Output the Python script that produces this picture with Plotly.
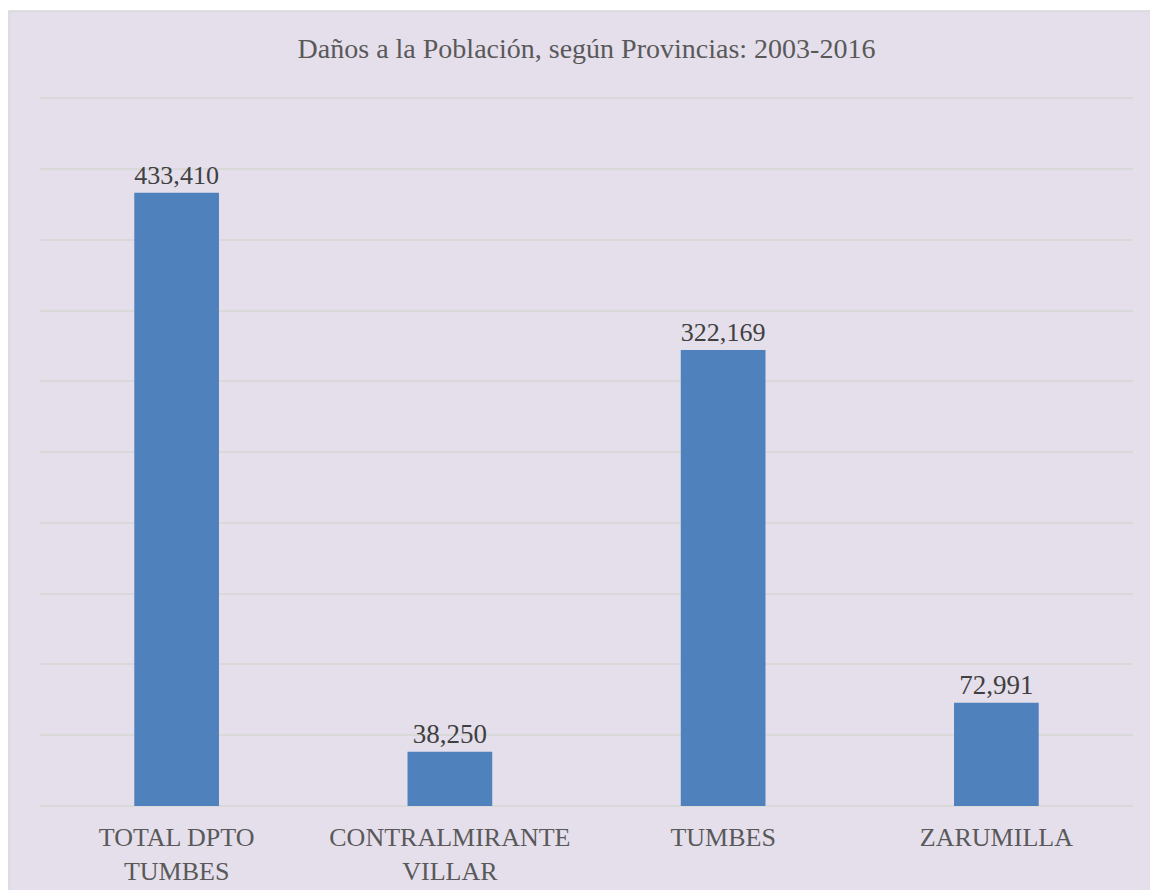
import plotly.graph_objects as go

categories = ["TOTAL DPTO<br>TUMBES", "CONTRALMIRANTE<br>VILLAR", "TUMBES", "ZARUMILLA"]
values = [433410, 38250, 322169, 72991]
labels = ["433,410", "38,250", "322,169", "72,991"]
title_text = "Daños a la Población, según Provincias: 2003-2016"

W, H = 1150, 890
L, R, T, B = 40, 1150 - 1133, 97, 890 - 806
pw = W - L - R
ph = H - T - B


def px_x(v):
    return (v - L) / pw


def px_y(v):
    return (H - B - v) / ph


BG = "#E5DFEC"
fig = go.Figure(go.Bar(
    x=categories, y=values, text=labels, textposition="outside",
    marker=dict(color="#4F81BD", line=dict(width=0)),
    textfont=dict(family="Liberation Serif", size=27, color="#404040"),
    width=0.31, cliponaxis=False,
))

fig.update_layout(
    width=W, height=H,
    margin=dict(l=L, r=R, t=T, b=B, autoexpand=False),
    paper_bgcolor=BG, plot_bgcolor="rgba(0,0,0,0)",
    title=dict(text=title_text, xref="paper", x=0.5, xanchor="center", y=1 - 48 / H, yanchor="middle",
               font=dict(family="Liberation Serif", size=28, color="#595959")),
    xaxis=dict(tickfont=dict(family="Liberation Serif", size=26, color="#595959"), automargin=False,
               showgrid=False, showline=False, ticks="", ticklen=0, ticklabelstandoff=13),
    yaxis=dict(range=[0, 501000], tick0=0, dtick=50000, showticklabels=False, gridcolor="#D9D9D9",
               automargin=False,
               gridwidth=1.5, zeroline=True, zerolinecolor="#D9D9D9", zerolinewidth=1.5, showline=False),
    showlegend=False,
    bargap=0.69,
    shapes=[
        dict(type="rect", xref="paper", yref="paper", layer="below",
             x0=px_x(-5), x1=px_x(W + 5), y0=px_y(-5), y1=px_y(10.5),
             fillcolor="white", line=dict(width=0)),
        dict(type="rect", xref="paper", yref="paper", layer="below",
             x0=px_x(-5), x1=px_x(8.5), y0=px_y(H + 5), y1=px_y(-5),
             fillcolor="white", line=dict(width=0)),
        dict(type="rect", xref="paper", yref="paper", layer="below",
             x0=px_x(9), x1=px_x(W + 5), y0=px_y(H + 5), y1=px_y(11),
             fillcolor=BG, line=dict(color="#D9D9D9", width=1.5)),
    ],
)

fig.write_html("out.html", config={"displayModeBar": False},
               post_script="document.body.style.margin='0';document.documentElement.style.overflow='hidden';document.body.style.overflow='hidden';")
